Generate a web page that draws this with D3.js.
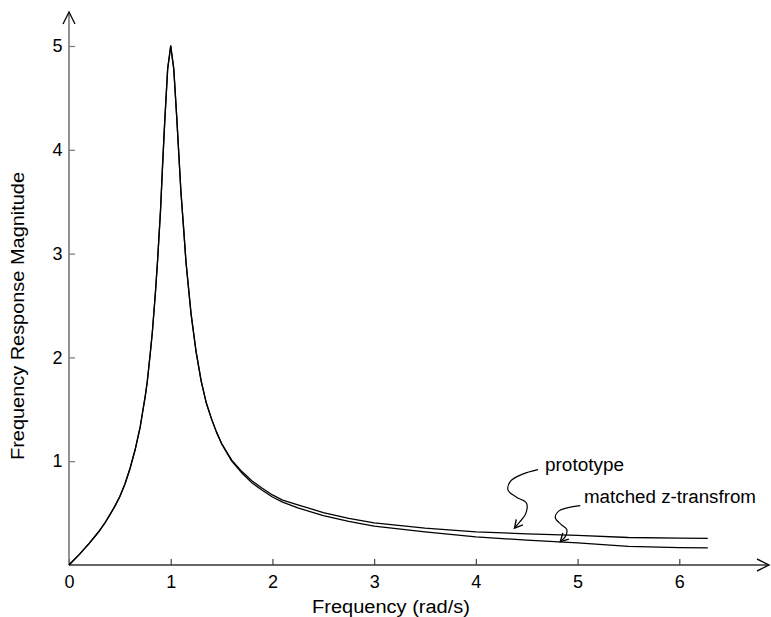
<!DOCTYPE html>
<html>
<head>
<meta charset="utf-8">
<script src="https://cdn.jsdelivr.net/npm/d3@7"></script>
<style>
  html, body { margin: 0; padding: 0; background: #fff; }
  svg { display: block; }
  text { font-family: "Liberation Sans", Arial, Helvetica, sans-serif; fill: #000; }
</style>
</head>
<body>
<svg id="chart" width="771" height="617"></svg>
<script>
// ---- data ----
const freq = [0, 0.05, 0.1, 0.15, 0.2, 0.25, 0.3, 0.35, 0.4, 0.45, 0.5, 0.55, 0.6, 0.65, 0.7, 0.72, 0.75, 0.77, 0.8, 0.82, 0.85, 0.87, 0.9, 0.92, 0.94, 0.97, 1.0, 1.03, 1.06, 1.08, 1.1, 1.13, 1.15, 1.2, 1.25, 1.3, 1.35, 1.4, 1.45, 1.5, 1.6, 1.7, 1.8, 1.9, 2.0, 2.1, 2.25, 2.5, 2.75, 3.0, 3.5, 4.0, 4.5, 5.0, 5.5, 6.0, 6.28];
const prototypeMag = [0, 0.05, 0.10, 0.155, 0.21, 0.27, 0.33, 0.40, 0.48, 0.565, 0.66, 0.78, 0.93, 1.11, 1.33, 1.45, 1.63, 1.77, 2.05, 2.25, 2.63, 2.92, 3.42, 3.85, 4.25, 4.78, 5.0, 4.78, 4.3, 3.95, 3.6, 3.2, 2.92, 2.42, 2.05, 1.77, 1.56, 1.41, 1.28, 1.17, 1.01, 0.90, 0.81, 0.74, 0.675, 0.625, 0.58, 0.505, 0.45, 0.405, 0.355, 0.32, 0.30, 0.285, 0.265, 0.258, 0.257];
const matchedMag = [0, 0.05, 0.10, 0.155, 0.21, 0.27, 0.33, 0.40, 0.48, 0.565, 0.66, 0.78, 0.93, 1.11, 1.33, 1.45, 1.63, 1.77, 2.05, 2.25, 2.63, 2.92, 3.42, 3.85, 4.25, 4.78, 5.0, 4.78, 4.3, 3.95, 3.6, 3.2, 2.92, 2.42, 2.05, 1.77, 1.56, 1.41, 1.28, 1.17, 1.0, 0.885, 0.79, 0.72, 0.655, 0.605, 0.55, 0.475, 0.42, 0.375, 0.32, 0.27, 0.24, 0.213, 0.18, 0.168, 0.165];
const xTicks = [0, 1, 2, 3, 4, 5, 6];
const yTicks = [1, 2, 3, 4, 5];
const xLabel = "Frequency (rad/s)";
const yLabel = "Frequency Response Magnitude";
const labelPrototype = "prototype";
const labelMatched = "matched z-transfrom";

// ---- layout ----
const svg = d3.select("#chart");
const x = d3.scaleLinear().domain([0, 6]).range([69, 679.3]);
const y = d3.scaleLinear().domain([0, 5]).range([565, 46]);
const FS = 18;
const FONT = "Liberation Sans, Arial, sans-serif";

// axes
const gx = svg.append("g").attr("transform", `translate(0,${y(0)})`)
  .call(d3.axisBottom(x).tickValues(xTicks).tickSize(-6).tickPadding(10).tickFormat(d3.format("d")));
gx.select(".domain").remove();
gx.selectAll(".tick line").attr("stroke", "#444").attr("stroke-width", 1.2);
gx.selectAll(".tick text").attr("font-size", FS).attr("font-family", FONT);

const gy = svg.append("g").attr("transform", `translate(${x(0)},0)`)
  .call(d3.axisLeft(y).tickValues(yTicks).tickSize(-6).tickPadding(6.5).tickFormat(d3.format("d")));
gy.select(".domain").remove();
gy.selectAll(".tick line").attr("stroke", "#777").attr("stroke-width", 1.2);
gy.selectAll(".tick text").attr("font-size", FS).attr("font-family", FONT);

// axis lines with open arrowheads
const x0 = x(0), y0 = y(0);
svg.append("line").attr("x1", x0).attr("y1", y0).attr("x2", 769).attr("y2", y0)
  .attr("stroke", "#333").attr("stroke-width", 1.4);
svg.append("path").attr("d", `M${757},${y0 - 6}L769,${y0}L${757},${y0 + 6}`)
  .attr("fill", "none").attr("stroke", "#111").attr("stroke-width", 1.4);
svg.append("line").attr("x1", x0).attr("y1", y0).attr("x2", x0).attr("y2", 12)
  .attr("stroke", "#777").attr("stroke-width", 1.6);
svg.append("path").attr("d", `M${x0 - 6},24L${x0},12L${x0 + 6},24`)
  .attr("fill", "none").attr("stroke", "#111").attr("stroke-width", 1.4);

// curves
const line = (vals) => d3.line().x((d, i) => x(freq[i])).y(d => y(d))(vals);
svg.append("path").attr("d", line(prototypeMag)).attr("fill", "none")
  .attr("stroke", "#000").attr("stroke-width", 1.3).attr("stroke-linejoin", "round");
svg.append("path").attr("d", line(matchedMag)).attr("fill", "none")
  .attr("stroke", "#000").attr("stroke-width", 1.3).attr("stroke-linejoin", "round");

// axis labels
svg.append("text").attr("x", 391).attr("y", 612.5).attr("text-anchor", "middle")
  .attr("font-size", FS).attr("textLength", 158).attr("lengthAdjust", "spacingAndGlyphs").text(xLabel);
svg.append("text").attr("transform", "translate(23.5,316) rotate(-90)").attr("text-anchor", "middle")
  .attr("font-size", FS).attr("textLength", 288).attr("lengthAdjust", "spacingAndGlyphs").text(yLabel);

// annotations: squiggly leader line ending in an open arrowhead
const lead = d3.line().curve(d3.curveCatmullRom.alpha(0.5));
function leader(tipX, tipY, rel) {
  const pts = rel.map(p => [tipX + p[0], tipY + p[1]]);
  svg.append("path").attr("d", lead(pts)).attr("fill", "none")
    .attr("stroke", "#000").attr("stroke-width", 1.2);
  // arrowhead (open V), direction from last-but-one point to tip
  const a = pts[pts.length - 2];
  const ang = Math.atan2(tipY - a[1], tipX - a[0]);
  const L = 9, W = 0.5;
  const p1 = [tipX - L * Math.cos(ang - W), tipY - L * Math.sin(ang - W)];
  const p2 = [tipX - L * Math.cos(ang + W), tipY - L * Math.sin(ang + W)];
  svg.append("path").attr("d", `M${p1[0]},${p1[1]}L${tipX},${tipY}L${p2[0]},${p2[1]}`)
    .attr("fill", "none").attr("stroke", "#000").attr("stroke-width", 1.4).attr("stroke-linejoin", "miter");
}
const protoTipX = x(4.38), protoTipY = y(0.355);
leader(protoTipX, protoTipY, [[23.5, -58.5], [8, -54], [-4, -47], [-6.5, -38], [2, -31], [12, -25], [11, -14], [5, -6], [0, 0]]);
svg.append("text").attr("x", 545).attr("y", 471).attr("font-size", FS)
  .attr("textLength", 79).attr("lengthAdjust", "spacingAndGlyphs").text(labelPrototype);

const matchTipX = x(4.83), matchTipY = y(0.225);
leader(matchTipX, matchTipY, [[20, -36], [8, -34], [-1, -31], [-5, -24], [1, -17], [6.5, -12], [5, -5], [0, 0]]);
svg.append("text").attr("x", 584).attr("y", 503).attr("font-size", FS)
  .attr("textLength", 172).attr("lengthAdjust", "spacingAndGlyphs").text(labelMatched);
</script>
</body>
</html>
